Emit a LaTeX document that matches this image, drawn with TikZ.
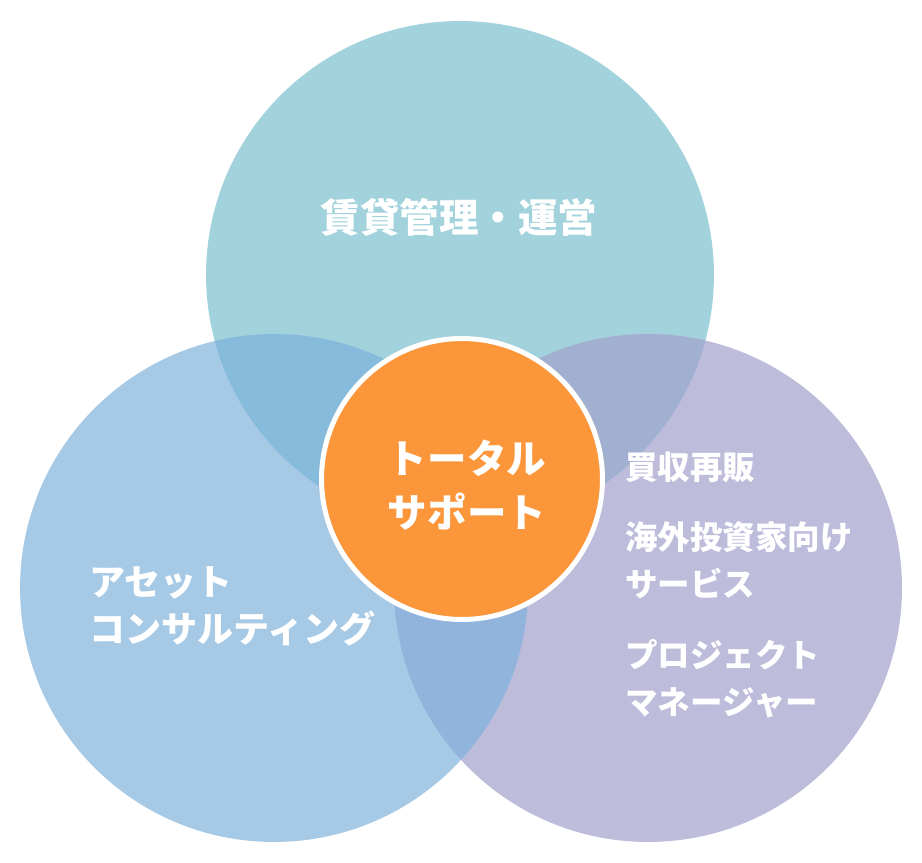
\documentclass[tikz,border=0pt]{standalone}
\usepackage{fontspec}
\newfontfamily\jpfont{Noto Sans CJK JP}
\definecolor{rentc}{HTML}{A2D2DC}
\definecolor{assetc}{HTML}{A6C9E6}
\definecolor{tradec}{HTML}{BDBCDB}
\definecolor{rentasset}{HTML}{87BBDC}
\definecolor{renttrade}{HTML}{A1AFD0}
\definecolor{assettrade}{HTML}{91B4DC}
\definecolor{hubc}{HTML}{FB963A}
\begin{document}
\begin{tikzpicture}[x=0.02cm, y=-0.02cm,
            field/.style={circle, minimum size=10.16cm, inner sep=0pt},
            hub/.style={circle, fill=hubc, draw=white, line width=0.1cm, minimum size=5.62cm, inner sep=0pt},
            biglabel/.style={text=white, font=\jpfont\bfseries\fontsize{22.5}{31}\selectfont, align=center},
            sidelabel/.style={text=white, font=\jpfont\bfseries\fontsize{20.5}{26.7}\selectfont, align=left, anchor=west, inner sep=0pt},
            smalllabel/.style={text=white, font=\jpfont\bfseries\fontsize{18.5}{26.7}\selectfont, align=left, anchor=west, inner sep=0pt}
        ]
        \useasboundingbox (0,0) rectangle (922,862);

        % Three service fields
        \node[field, fill=rentc] (rent) at (460,275) {};
        \node[field, fill=assetc] (asset) at (274,588) {};
        \node[field, fill=tradec] (trade) at (648,588) {};

        % Overlaps
        \begin{scope}
            \clip (rent.center) circle (5.08cm);
            \fill[rentasset] (asset.center) circle (5.08cm);
            \fill[renttrade] (trade.center) circle (5.08cm);
        \end{scope}
        \begin{scope}
            \clip (asset.center) circle (5.08cm);
            \fill[assettrade] (trade.center) circle (5.08cm);
        \end{scope}

        % Centre
        \node[hub] (total) at (462,479) {};
        \node[biglabel] (totaltext) at (467,485) {トータル\\サポート};

        % Labels
        \node[biglabel] (renttext) at (459,217) {賃貸管理・運営};
        \node[sidelabel] (assettext) at (89,606) {アセット\\コンサルティング};
        \node[smalllabel] (buytext) at (625,467) {買収再販};
        \node[smalllabel] (overseastext) at (625,560) {海外投資家向け\\サービス};
        \node[smalllabel] (pmtext) at (625,679) {プロジェクト\\マネージャー};

    \end{tikzpicture}
\end{document}
